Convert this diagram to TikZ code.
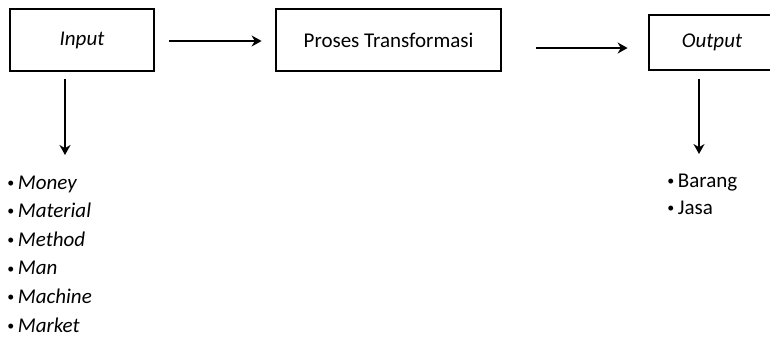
\documentclass[tikz,border=0pt]{standalone}
\usepackage{fontspec}
\setmainfont{Carlito}
\usepackage{tikz}
\usetikzlibrary{positioning}
\usetikzlibrary{arrows.meta}
\usetikzlibrary{calc}

\newcommand{\smallbul}{\raisebox{0.9pt}{\fontsize{7}{7}\selectfont•}\,}

\tikzset{
  box/.style={draw, line width=1.4pt, inner sep=0pt, font=\fontsize{10.5}{14}\selectfont},
  item/.style={inner sep=0pt, anchor=base west, font=\fontsize{10.5}{14}\selectfont},
  flow/.style={->, line width=1.4pt}
}

\begin{document}
\begin{tikzpicture}[x=0.5pt,y=-0.5pt,>={Stealth[length=5pt,width=5.5pt]}]
\useasboundingbox (0,0) rectangle (770,338);

\node[box, minimum width=72pt, minimum height=31pt] (input) at (82,40) {\textit{Input}};
\node[box, minimum width=112.5pt, minimum height=31pt] (proses) at (388.5,40) {Proses Transformasi};
\node[box, minimum width=63pt, minimum height=27.5pt] (output) at (712,42.5) {\textit{Output}};

\draw [flow] ([xshift=7pt,yshift=-0.5pt]input.east) -- ([xshift=-6.5pt,yshift=-0.5pt]proses.west);
\draw [flow] ([xshift=17pt,yshift=-4pt]proses.east) -- ([xshift=-10pt,yshift=-2.75pt]output.west);

\coordinate (inend) at (65,155);
\coordinate (outend) at (699,154);
\draw [flow] (input.south -| inend) ++(0,7) -- (inend);
\draw [flow] (output.south -| outend) ++(0,8) -- (outend);

% sumber daya
\foreach \w [count=\i] in {Money,Material,Method,Man,Machine,Market}
  \node[item] (in\i) at (7,{189+28.6*(\i-1)}) {\smallbul\textit{\w}};

% hasil
\node[item] (out1) at (667,187) {\smallbul Barang};
\node[item] (out2) at (667,214) {\smallbul Jasa};
\end{tikzpicture}
\end{document}
